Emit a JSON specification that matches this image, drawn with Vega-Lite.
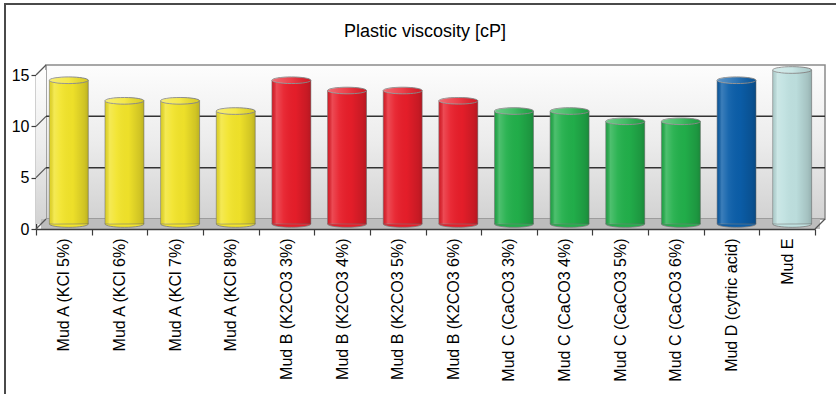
{
  "$schema": "https://vega.github.io/schema/vega-lite/v6.json",
  "autosize": {"type": "none"},
  "padding": {"left": 5, "top": 4, "right": 0, "bottom": 0},
  "width": 840,
  "height": 400,
  "background": "#ffffff",
  "title": {
    "text": "Plastic viscosity [cP]",
    "font": "Liberation Sans",
    "fontSize": 18,
    "fontWeight": "normal",
    "color": "#000000",
    "anchor": "middle",
    "frame": "group",
    "baseline": "alphabetic",
    "offset": -51
  },
  "config": {
    "view": {"stroke": "#4a4a4a", "strokeWidth": 2},
    "axis": {
      "labelFont": "Liberation Sans",
      "labelColor": "#000000",
      "domainColor": "#3c3c3c",
      "domainWidth": 1.5,
      "tickColor": "#3c3c3c",
      "tickWidth": 1.2,
      "grid": false,
      "title": null
    },
    "axisX": {
      "labelFontSize": 16,
      "labelAngle": -90,
      "labelAlign": "right",
      "labelBaseline": "middle",
      "labelPadding": 3,
      "tickSize": 6,
      "tickBand": "extent",
      "offset": -175
    },
    "axisY": {
      "labelFontSize": 16,
      "tickSize": 5,
      "labelPadding": 2,
      "offset": -31
    }
  },
  "datasets": {
    "muds": [
      {"mud": "Mud A (KCl 5%)", "group": "A", "pv": 14},
      {"mud": "Mud A (KCl 6%)", "group": "A", "pv": 12},
      {"mud": "Mud A (KCl 7%)", "group": "A", "pv": 12},
      {"mud": "Mud A (KCl 8%)", "group": "A", "pv": 11},
      {"mud": "Mud B (K2CO3 3%)", "group": "B", "pv": 14},
      {"mud": "Mud B (K2CO3 4%)", "group": "B", "pv": 13},
      {"mud": "Mud B (K2CO3 5%)", "group": "B", "pv": 13},
      {"mud": "Mud B (K2CO3 6%)", "group": "B", "pv": 12},
      {"mud": "Mud C (CaCO3 3%)", "group": "C", "pv": 11},
      {"mud": "Mud C (CaCO3 4%)", "group": "C", "pv": 11},
      {"mud": "Mud C (CaCO3 5%)", "group": "C", "pv": 10},
      {"mud": "Mud C (CaCO3 6%)", "group": "C", "pv": 10},
      {"mud": "Mud D (cytric acid)", "group": "D", "pv": 14},
      {"mud": "Mud E", "group": "E", "pv": 15}
    ],
    "levels": [{"v": 0}, {"v": 5}, {"v": 10}, {"v": 15}],
    "one": [{"k": 1}]
  },
  "layer": [
    {
      "data": {"name": "one"},
      "mark": {
        "type": "rect",
        "xOffset": 10, "x2Offset": 10, "yOffset": -10, "y2Offset": -10,
        "stroke": "#8a8a8a", "strokeWidth": 1.5,
        "fill": {"gradient": "linear", "x1": 0, "y1": 0, "x2": 0, "y2": 1,
          "stops": [{"offset": 0, "color": "#fdfdfd"}, {"offset": 0.5, "color": "#ececec"}, {"offset": 1, "color": "#d2d2d2"}]}
      },
      "encoding": {
        "x": {"datum": "Mud A (KCl 5%)", "type": "nominal", "bandPosition": 0, "title": null,
          "scale": {"domain": ["Mud A (KCl 5%)", "Mud A (KCl 6%)", "Mud A (KCl 7%)", "Mud A (KCl 8%)", "Mud B (K2CO3 3%)", "Mud B (K2CO3 4%)", "Mud B (K2CO3 5%)", "Mud B (K2CO3 6%)", "Mud C (CaCO3 3%)", "Mud C (CaCO3 4%)", "Mud C (CaCO3 5%)", "Mud C (CaCO3 6%)", "Mud D (cytric acid)", "Mud E"],
            "range": [31, 810], "paddingInner": 0, "paddingOuter": 0}},
        "x2": {"datum": "Mud E", "bandPosition": 1},
        "y": {"datum": 15, "type": "quantitative", "title": null,
          "scale": {"domain": [0, 15], "range": [225, 71], "nice": false, "zero": true},
          "axis": {"values": [0, 5, 10, 15], "title": null}},
        "y2": {"datum": 0}
      }
    },
    {
      "data": {"name": "one"},
      "mark": {
        "type": "rect",
        "x2Offset": 10, "yOffset": -5, "y2Offset": -5,
        "fill": {"gradient": "linear", "x1": 0, "y1": 0, "x2": 0, "y2": 1,
          "stops": [{"offset": 0, "color": "#fdfdfd"}, {"offset": 0.5, "color": "#ececec"}, {"offset": 1, "color": "#d2d2d2"}]}
      },
      "encoding": {
        "x": {"datum": "Mud A (KCl 5%)", "type": "nominal", "bandPosition": 0, "title": null},
        "x2": {"datum": "Mud A (KCl 5%)", "bandPosition": 0},
        "y": {"datum": 15, "type": "quantitative", "title": null},
        "y2": {"datum": 0}
      }
    },
    {
      "data": {"name": "one"},
      "mark": {"type": "rect", "xOffset": 5, "x2Offset": 5, "y2Offset": -10, "fill": "#bdbdbd"},
      "encoding": {
        "x": {"datum": "Mud A (KCl 5%)", "type": "nominal", "bandPosition": 0, "title": null},
        "x2": {"datum": "Mud E", "bandPosition": 1},
        "y": {"datum": 0, "type": "quantitative", "title": null},
        "y2": {"datum": 0}
      }
    },
    {
      "data": {"name": "levels"},
      "transform": [{"filter": "datum.v > 0 && datum.v < 15"}],
      "mark": {"type": "rule", "xOffset": 10, "x2Offset": 10, "yOffset": -10, "stroke": "#333333", "strokeWidth": 1.5},
      "encoding": {
        "x": {"datum": "Mud A (KCl 5%)", "type": "nominal", "bandPosition": 0, "title": null},
        "x2": {"datum": "Mud E", "bandPosition": 1},
        "y": {"field": "v", "type": "quantitative", "title": null}
      }
    },
    {
      "data": {"name": "levels"},
      "mark": {"type": "rule", "x2Offset": 10, "y2Offset": -10, "stroke": "#555555", "strokeWidth": 1.2},
      "encoding": {
        "x": {"datum": "Mud A (KCl 5%)", "type": "nominal", "bandPosition": 0, "title": null},
        "x2": {"datum": "Mud A (KCl 5%)", "bandPosition": 0},
        "y": {"field": "v", "type": "quantitative", "title": null},
        "y2": {"field": "v"}
      }
    },
    {
      "data": {"name": "one"},
      "mark": {"type": "rule", "x2Offset": 10, "y2Offset": -10, "stroke": "#555555", "strokeWidth": 1.2},
      "encoding": {
        "x": {"datum": "Mud E", "type": "nominal", "bandPosition": 1, "title": null},
        "x2": {"datum": "Mud E", "bandPosition": 1},
        "y": {"datum": 0, "type": "quantitative", "title": null},
        "y2": {"datum": 0}
      }
    },
    {
      "data": {"name": "muds"},
      "mark": {"type": "point", "filled": true, "opacity": 1, "xOffset": 5, "yOffset": -5, "size": 1517,
        "shape": "M -1 0 A 1 0.17 0 1 0 1 0 A 1 0.17 0 1 0 -1 0 Z", "stroke": "#7a7a7a", "strokeWidth": 0.8},
      "encoding": {
        "x": {"field": "mud", "type": "nominal", "title": null},
        "y": {"datum": 0, "type": "quantitative", "title": null},
        "color": {"field": "group", "type": "nominal", "legend": null,
          "scale": {"domain": ["A", "B", "C", "D", "E"], "range": ["#f2e42a", "#e81e2a", "#22b04b", "#0b5ea9", "#bfe1e0"]}}
      }
    },
    {
      "data": {"name": "muds"},
      "mark": {"type": "bar", "width": {"band": 0.7}, "xOffset": 5, "yOffset": -5, "y2Offset": -5, "stroke": "#7a7a7a", "strokeWidth": 0.6},
      "encoding": {
        "x": {"field": "mud", "type": "nominal", "title": null},
        "y": {"field": "pv", "type": "quantitative", "title": null},
        "y2": {"datum": 0},
        "color": {"field": "group", "type": "nominal", "legend": null}
      }
    },
    {
      "data": {"name": "muds"},
      "mark": {"type": "bar", "width": {"band": 0.7}, "xOffset": 5, "yOffset": -5, "y2Offset": -5,
        "fill": {"gradient": "linear", "x1": 0, "y1": 0, "x2": 1, "y2": 0,
          "stops": [
            {"offset": 0, "color": "rgba(0,0,0,0.08)"},
            {"offset": 0.12, "color": "rgba(255,255,255,0.2)"},
            {"offset": 0.3, "color": "rgba(255,255,255,0.06)"},
            {"offset": 0.6, "color": "rgba(0,0,0,0.02)"},
            {"offset": 0.9, "color": "rgba(0,0,0,0.14)"},
            {"offset": 1, "color": "rgba(0,0,0,0.22)"}
          ]}},
      "encoding": {
        "x": {"field": "mud", "type": "nominal", "title": null},
        "y": {"field": "pv", "type": "quantitative", "title": null},
        "y2": {"datum": 0}
      }
    },
    {
      "data": {"name": "muds"},
      "mark": {"type": "point", "filled": true, "opacity": 1, "xOffset": 5, "yOffset": -5, "size": 1517,
        "shape": "M -1 0 A 1 0.17 0 1 0 1 0 A 1 0.17 0 1 0 -1 0 Z", "stroke": "#8a8a8a", "strokeWidth": 1},
      "encoding": {
        "x": {"field": "mud", "type": "nominal", "title": null},
        "y": {"field": "pv", "type": "quantitative", "title": null},
        "color": {"field": "group", "type": "nominal", "legend": null}
      }
    },
    {
      "data": {"name": "muds"},
      "mark": {"type": "point", "filled": true, "opacity": 1, "xOffset": 5, "yOffset": -5, "size": 1517,
        "shape": "M -1 0 A 1 0.17 0 1 0 1 0 A 1 0.17 0 1 0 -1 0 Z",
        "fill": {"gradient": "linear", "x1": 0, "y1": 0, "x2": 1, "y2": 0,
          "stops": [{"offset": 0, "color": "rgba(255,255,255,0.35)"}, {"offset": 0.5, "color": "rgba(255,255,255,0.15)"}, {"offset": 1, "color": "rgba(0,0,0,0.1)"}]}},
      "encoding": {
        "x": {"field": "mud", "type": "nominal", "title": null},
        "y": {"field": "pv", "type": "quantitative", "title": null}
      }
    }
  ]
}
